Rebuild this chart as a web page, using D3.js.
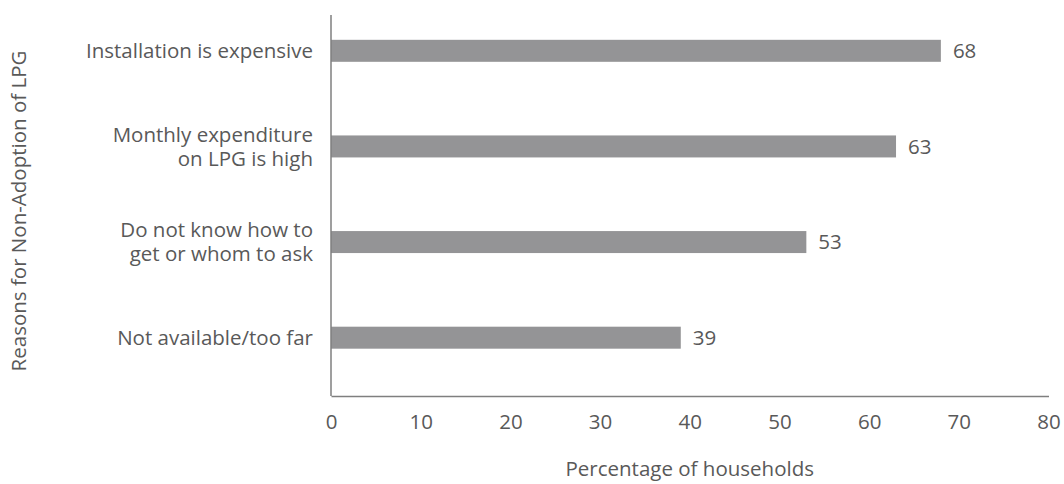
<!DOCTYPE html>
<html>
<head>
<meta charset="utf-8">
<script src="https://cdn.jsdelivr.net/npm/d3@7"></script>
<style>
  body { margin: 0; background: #fff; }
  text { font-family: "Open Sans", sans-serif; fill: #595959; }
</style>
</head>
<body>
<svg id="chart" width="1064" height="484"></svg>
<script>
// reasons, top to bottom
var reasons = [
  ["Installation is expensive"],
  ["Monthly expenditure", "on LPG is high"],
  ["Do not know how to", "get or whom to ask"],
  ["Not available/too far"]
];
var shares = [68, 63, 53, 39];
var xTicks = [0, 10, 20, 30, 40, 50, 60, 70, 80];

var svg = d3.select("#chart");

var x = d3.scaleLinear().domain([0, 80]).range([331, 1048.5]);
var y = d3.scaleBand()
  .domain(d3.range(reasons.length))
  .range([3, 385.5])
  .paddingInner(0.77)
  .paddingOuter(0.385);

var fontSize = 20.5;

// bars
svg.selectAll("rect.bar")
  .data(shares)
  .enter().append("rect")
  .attr("class", "bar")
  .attr("x", x(0))
  .attr("y", function(d, i){ return y(i); })
  .attr("width", function(d){ return x(d) - x(0); })
  .attr("height", y.bandwidth())
  .attr("fill", "#949496");

// value labels
svg.selectAll("text.val")
  .data(shares)
  .enter().append("text")
  .attr("class", "val")
  .attr("x", function(d){ return x(d) + 12; })
  .attr("y", function(d, i){ return y(i) + y.bandwidth() / 2; })
  .attr("dy", "0.35em")
  .style("font-size", fontSize + "px")
  .text(function(d){ return d; });

// category labels, one or two lines
var cats = svg.selectAll("text.cat")
  .data(reasons)
  .enter().append("text")
  .attr("class", "cat")
  .attr("text-anchor", "end")
  .style("font-size", fontSize + "px");

cats.each(function(lines, i){
  var cy = y(i) + y.bandwidth() / 2;
  var lh = 24;
  var top = cy - (lines.length - 1) * lh / 2;
  d3.select(this).selectAll("tspan")
    .data(lines)
    .enter().append("tspan")
    .attr("x", 313)
    .attr("y", function(d, j){ return top + j * lh; })
    .attr("dy", "0.35em")
    .text(function(d){ return d; });
});

// x axis
var xAxis = d3.axisBottom(x).tickValues(xTicks).tickSize(0).tickPadding(18);
var gx = svg.append("g")
  .attr("transform", "translate(0,396)")
  .call(xAxis);
gx.select(".domain").attr("stroke", "#7f7f7f").attr("stroke-width", 1.5);
gx.selectAll("text")
  .style("font-size", fontSize + "px")
  .style("font-family", "'Open Sans', sans-serif")
  .attr("fill", "#595959");

// y axis line
svg.append("line")
  .attr("x1", 331).attr("x2", 331)
  .attr("y1", 15).attr("y2", 396)
  .attr("stroke", "#7f7f7f")
  .attr("stroke-width", 1.5);

// axis titles
svg.append("text")
  .attr("x", (x(0) + x(80)) / 2)
  .attr("y", 469)
  .attr("dy", "0.35em")
  .attr("text-anchor", "middle")
  .style("font-size", fontSize + "px")
  .text("Percentage of households");

svg.append("text")
  .attr("transform", "translate(19,211) rotate(-90)")
  .attr("dy", "0.35em")
  .attr("text-anchor", "middle")
  .style("font-size", fontSize + "px")
  .text("Reasons for Non-Adoption of LPG");
</script>
</body>
</html>
